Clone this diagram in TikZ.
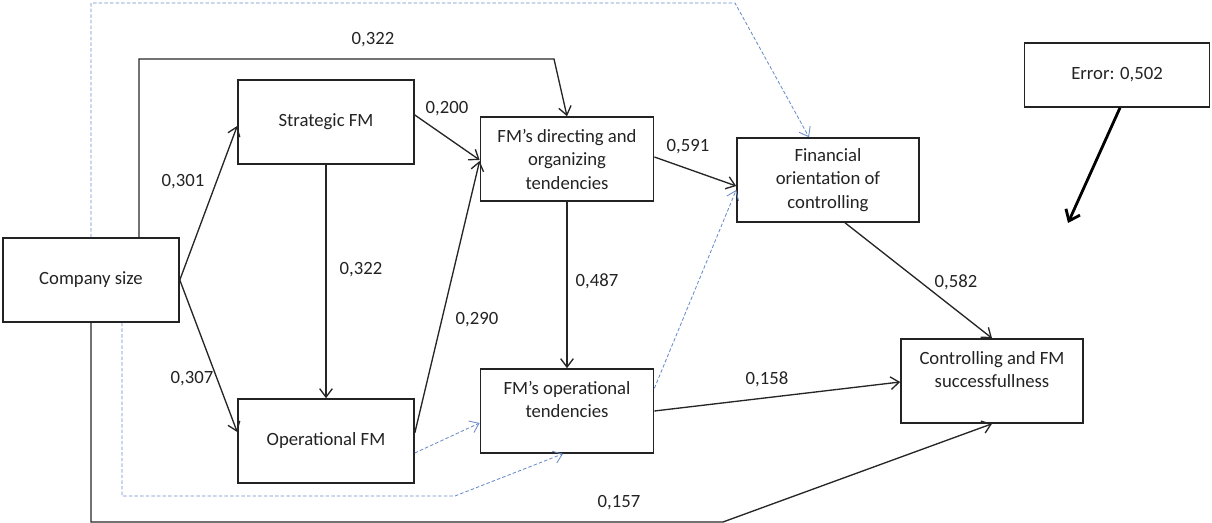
\documentclass[tikz,border=0pt]{standalone}
\usepackage{fontspec}
\setmainfont{Carlito}
\usetikzlibrary{arrows.meta,positioning,calc}
\definecolor{dashblue}{RGB}{105,140,200}
\definecolor{inkgray}{RGB}{35,35,35}

\begin{document}
\begin{tikzpicture}[x=0.025cm,y=-0.025cm,
    font=\fontsize{13.3}{16.7}\selectfont, text=inkgray,
    box/.style={draw=inkgray, line width=1.1pt, minimum width=4.4cm, minimum height=2.1cm, align=center},
    link/.style={draw=black!85, line width=0.95pt, -{Straight Barb[length=6pt,width=9pt]}},
    dlink/.style={draw=dashblue, line width=0.6pt, dash pattern=on 2.5pt off 1.5pt, -{Straight Barb[length=6pt,width=9pt]}},
    coef/.style={inner sep=1pt}]
    \useasboundingbox (0,0) rectangle (1212,523);
    % boxes
    \node[box] (size) at (91,280) {Company size};
    \node[box] (strat) at (326,122) {Strategic FM};
    \node[box] (oper) at (326,441) {Operational FM};
    \node[box, minimum width=4.33cm] (direct) at (567,159) {FM's directing and\\organizing\\tendencies};
    \node[box, minimum width=4.33cm] (optend) at (567,411) {FM's operational\\tendencies\\ \mbox{}};
    \node[box, minimum width=4.55cm] (fin) at (828,180) {Financial\\orientation of\\controlling};
    \node[box, minimum width=4.55cm] (succ) at (992,381) {Controlling and FM\\successfullness\\ \mbox{}};
    \node[box, minimum width=4.62cm, minimum height=1.6cm] (err) at (1117,75) {Error: 0,502};
    % paths between boxes
    \draw[link] (size.east) -- ($(strat.west)+(0,4)$);
    \draw[link] (size.east) -- ($(oper.west)+(0,-9)$);
    \draw[link] (strat.south) -- (oper.north);
    \draw[link] ($(strat.east)+(0,-7)$) -- ($(direct.west)+(0,1)$);
    \draw[link] ($(oper.east)+(0,-8)$) -- ($(direct.west)+(0,2)$);
    \draw[link] (direct.south) -- (optend.north);
    \draw[link] ($(direct.east)+(0,-2)$) -- ($(fin.west)+(0,6)$);
    \draw[link] ($(fin.south)+(17,0)$) -- (succ.north);
    \draw[link] (optend.east) -- ($(succ.west)+(0,1)$);
    \draw[link] ($(size.north)+(48,0)$) |- (554,59) -- (direct.north);
    \draw[link] (size.south) |- (723,522) -- (succ.south);
    % error term
    \coordinate (errtip) at (1068,223);
    \draw[draw=black, line width=2pt, -{Straight Barb[length=7pt,width=11pt]}] ($(err.south)+(3,0)$) -- (errtip);
    % dashed paths
    \draw[dlink] (size.north) |- (735,3) -- ($(fin.north)+(-19,0)$);
    \draw[dlink] ($(size.south)+(31,0)$) |- (455,496) -- ($(optend.south)+(-4,0)$);
    \draw[dlink] ($(oper.east)+(0,12)$) -- ($(optend.west)+(0,12)$);
    \draw[dlink] ($(optend.north east)+(0,20)$) -- ($(fin.west)+(0,10)$);
    % coefficients
    \node[coef] (c1) at (373,40) {0,322};
    \node[coef] (c2) at (183,182) {0,301};
    \node[coef] (c3) at (192,379) {0,307};
    \node[coef] (c4) at (361,270) {0,322};
    \node[coef] (c5) at (447,109) {0,200};
    \node[coef] (c6) at (477,320) {0,290};
    \node[coef] (c7) at (597,281) {0,487};
    \node[coef] (c8) at (688,147) {0,591};
    \node[coef] (c9) at (956,282) {0,582};
    \node[coef] (c10) at (767,379) {0,158};
    \node[coef] (c11) at (619,503) {0,157};
\end{tikzpicture}
\end{document}
